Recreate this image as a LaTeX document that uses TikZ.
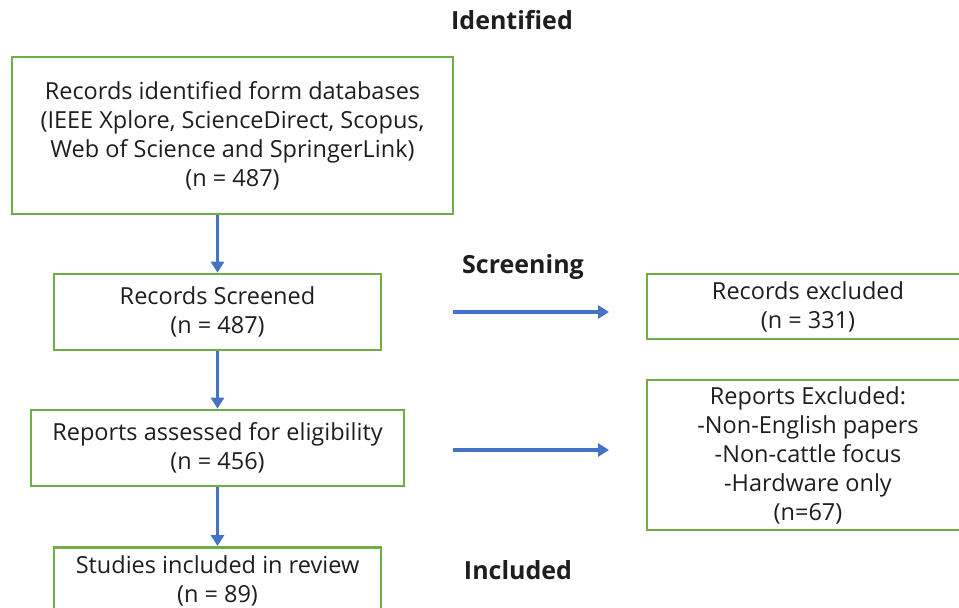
\documentclass[tikz,border=0pt]{standalone}
\usepackage{fontspec}
\setmainfont{Open Sans}
\usetikzlibrary{arrows.meta,calc}
\definecolor{boxgreen}{RGB}{112,173,71}
\definecolor{arrblue}{RGB}{68,114,196}
\definecolor{txt}{RGB}{30,30,30}
\tikzset{
  box/.style={draw=boxgreen, line width=2.6pt, align=center, text=txt, font=\fontsize{23.5}{29}\selectfont, inner sep=0pt},
  arr/.style={draw=arrblue, line width=3.6pt, -{Triangle[width=13pt,length=11pt]}},
  phase/.style={font=\fontsize{25}{28}\selectfont\bfseries, text=txt}
}
\begin{document}
\begin{tikzpicture}[x=1pt,y=-1pt]
\useasboundingbox (0,0) rectangle (959,608);
\clip (0,0) rectangle (959,608);
\node[box, minimum width=441pt, minimum height=157pt] (b1) at (232.5,135.5) {Records identified form databases\\(IEEE Xplore, ScienceDirect, Scopus,\\Web of Science and SpringerLink)\\(n = 487)};
\node[box, minimum width=327pt, minimum height=76pt] (b2) at (217.5,312) {Records Screened\\(n = 487)};
\node[box, minimum width=373pt, minimum height=76pt] (b3) at (217.5,448) {Reports assessed for eligibility\\(n = 456)};
\node[box, minimum width=327pt, minimum height=68pt, anchor=north] (b4) at (217.5,546) {Studies included in review\\(n = 89)};
\node[box, minimum width=322pt, minimum height=65pt] (r1) at (808,306.5) {Records excluded\\(n = 331)};
\node[box, minimum width=322pt, minimum height=150pt] (r2) at (808,455) {Reports Excluded:\\-Non-English papers\\-Non-cattle focus\\-Hardware only\\(n=67)};
\node[phase] (lid) at (512,20) {Identified};
\node[phase] (lsc) at (523,267) {Screening};
\node[phase] (lin) at (518,570) {Included};
\coordinate (h1s) at (453,312);
\coordinate (h1e) at (609,312);
\coordinate (h2s) at (453,450);
\coordinate (h2e) at (609,450);
\draw[arr] (b2.north |- b1.south) -- (b2.north);
\draw[arr] (b2.south) -- (b3.north);
\draw[arr] (b3.south) -- (b4.north);
\draw[arr] (h1s) -- (h1e);
\draw[arr] (h2s) -- (h2e);
\end{tikzpicture}
\end{document}
